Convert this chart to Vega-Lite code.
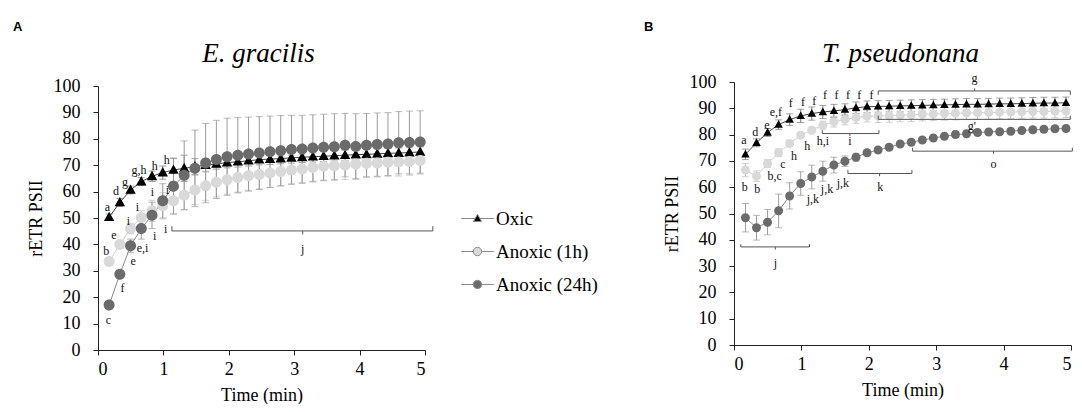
{
  "$schema": "https://vega.github.io/schema/vega-lite/v6.json",
  "background": "white",
  "padding": {"left": 13, "top": 21, "right": 0, "bottom": 0},
  "config": {
    "view": {"stroke": null},
    "axis": {"domainColor": "#222", "tickColor": "#222", "labelColor": "#000", "titleColor": "#000", "grid": false, "tickSize": 5},
    "axisY": {"labelPadding": 13, "titlePadding": 8},
    "axisX": {"labelPadding": 5, "titlePadding": 8}
  },
  "datasets": {
    "sa": [
      {"s":"Oxic","t":0.17,"v":50.3,"e":1.2},{"s":"Oxic","t":0.334,"v":55.9,"e":1.5},{"s":"Oxic","t":0.498,"v":60.6,"e":1.5},{"s":"Oxic","t":0.662,"v":63.8,"e":1.5},{"s":"Oxic","t":0.826,"v":65.8,"e":2},{"s":"Oxic","t":0.99,"v":67.2,"e":2.5},{"s":"Oxic","t":1.154,"v":68.2,"e":4.5},{"s":"Oxic","t":1.318,"v":68.8,"e":5},{"s":"Oxic","t":1.482,"v":69.5,"e":3},{"s":"Oxic","t":1.646,"v":70,"e":2.5},{"s":"Oxic","t":1.81,"v":70.5,"e":2},{"s":"Oxic","t":1.974,"v":71,"e":2},{"s":"Oxic","t":2.138,"v":71.3,"e":2},{"s":"Oxic","t":2.302,"v":71.7,"e":2},{"s":"Oxic","t":2.466,"v":72.1,"e":2},{"s":"Oxic","t":2.63,"v":72.3,"e":2},{"s":"Oxic","t":2.794,"v":72.5,"e":2},{"s":"Oxic","t":2.958,"v":72.8,"e":2},{"s":"Oxic","t":3.122,"v":73,"e":2},{"s":"Oxic","t":3.286,"v":73.2,"e":2},{"s":"Oxic","t":3.45,"v":73.4,"e":2},{"s":"Oxic","t":3.614,"v":73.6,"e":2},{"s":"Oxic","t":3.778,"v":73.8,"e":2},{"s":"Oxic","t":3.942,"v":74,"e":2},{"s":"Oxic","t":4.106,"v":74.1,"e":2},{"s":"Oxic","t":4.27,"v":74.3,"e":2},{"s":"Oxic","t":4.434,"v":74.5,"e":2},{"s":"Oxic","t":4.598,"v":74.6,"e":2},{"s":"Oxic","t":4.762,"v":74.8,"e":2},{"s":"Oxic","t":4.926,"v":75,"e":2},
      {"s":"Anoxic (1h)","t":0.17,"v":33.5,"e":1.5},{"s":"Anoxic (1h)","t":0.334,"v":40,"e":1.5},{"s":"Anoxic (1h)","t":0.498,"v":46,"e":2},{"s":"Anoxic (1h)","t":0.662,"v":50.2,"e":2.5},{"s":"Anoxic (1h)","t":0.826,"v":52.7,"e":4},{"s":"Anoxic (1h)","t":0.99,"v":54.6,"e":5},{"s":"Anoxic (1h)","t":1.154,"v":56.5,"e":5},{"s":"Anoxic (1h)","t":1.318,"v":58.6,"e":5.5},{"s":"Anoxic (1h)","t":1.482,"v":60.6,"e":5.5},{"s":"Anoxic (1h)","t":1.646,"v":62.2,"e":5.5},{"s":"Anoxic (1h)","t":1.81,"v":63.5,"e":5.5},{"s":"Anoxic (1h)","t":1.974,"v":64.5,"e":5.5},{"s":"Anoxic (1h)","t":2.138,"v":65.3,"e":5.5},{"s":"Anoxic (1h)","t":2.302,"v":66,"e":5.5},{"s":"Anoxic (1h)","t":2.466,"v":66.5,"e":5.5},{"s":"Anoxic (1h)","t":2.63,"v":67,"e":5.5},{"s":"Anoxic (1h)","t":2.794,"v":67.6,"e":5.5},{"s":"Anoxic (1h)","t":2.958,"v":68.2,"e":5.5},{"s":"Anoxic (1h)","t":3.122,"v":68.6,"e":5.5},{"s":"Anoxic (1h)","t":3.286,"v":69.1,"e":5.5},{"s":"Anoxic (1h)","t":3.45,"v":69.6,"e":5.5},{"s":"Anoxic (1h)","t":3.614,"v":69.8,"e":5.5},{"s":"Anoxic (1h)","t":3.778,"v":70.1,"e":5.5},{"s":"Anoxic (1h)","t":3.942,"v":70.5,"e":5.5},{"s":"Anoxic (1h)","t":4.106,"v":70.7,"e":5.3},{"s":"Anoxic (1h)","t":4.27,"v":70.8,"e":5.3},{"s":"Anoxic (1h)","t":4.434,"v":71.1,"e":5.3},{"s":"Anoxic (1h)","t":4.598,"v":71.2,"e":5.3},{"s":"Anoxic (1h)","t":4.762,"v":71.4,"e":5.2},{"s":"Anoxic (1h)","t":4.926,"v":71.8,"e":5.2},
      {"s":"Anoxic (24h)","t":0.17,"v":17,"e":1},{"s":"Anoxic (24h)","t":0.334,"v":28.7,"e":1.5},{"s":"Anoxic (24h)","t":0.498,"v":39.5,"e":2.5},{"s":"Anoxic (24h)","t":0.662,"v":46,"e":4},{"s":"Anoxic (24h)","t":0.826,"v":51,"e":5},{"s":"Anoxic (24h)","t":0.99,"v":56.5,"e":6.5},{"s":"Anoxic (24h)","t":1.154,"v":62,"e":10.5},{"s":"Anoxic (24h)","t":1.318,"v":66.2,"e":13},{"s":"Anoxic (24h)","t":1.482,"v":68.8,"e":14.5},{"s":"Anoxic (24h)","t":1.646,"v":70.8,"e":15},{"s":"Anoxic (24h)","t":1.81,"v":72.2,"e":14.8},{"s":"Anoxic (24h)","t":1.974,"v":73.2,"e":14.6},{"s":"Anoxic (24h)","t":2.138,"v":73.8,"e":14.3},{"s":"Anoxic (24h)","t":2.302,"v":74.2,"e":14},{"s":"Anoxic (24h)","t":2.466,"v":74.6,"e":13.8},{"s":"Anoxic (24h)","t":2.63,"v":75.1,"e":13.5},{"s":"Anoxic (24h)","t":2.794,"v":75.5,"e":13.3},{"s":"Anoxic (24h)","t":2.958,"v":75.9,"e":13},{"s":"Anoxic (24h)","t":3.122,"v":76.1,"e":12.8},{"s":"Anoxic (24h)","t":3.286,"v":76.5,"e":12.6},{"s":"Anoxic (24h)","t":3.45,"v":76.8,"e":12.5},{"s":"Anoxic (24h)","t":3.614,"v":77,"e":12.5},{"s":"Anoxic (24h)","t":3.778,"v":77.6,"e":12},{"s":"Anoxic (24h)","t":3.942,"v":77.1,"e":12.4},{"s":"Anoxic (24h)","t":4.106,"v":77.6,"e":12},{"s":"Anoxic (24h)","t":4.27,"v":77.8,"e":12},{"s":"Anoxic (24h)","t":4.434,"v":78,"e":11.9},{"s":"Anoxic (24h)","t":4.598,"v":78.5,"e":11.8},{"s":"Anoxic (24h)","t":4.762,"v":78.6,"e":11.9},{"s":"Anoxic (24h)","t":4.926,"v":78.8,"e":11.8}
    ],
    "sb": [
      {"s":"Oxic","t":0.17,"v":72.5,"e":2},{"s":"Oxic","t":0.334,"v":76.9,"e":1.5},{"s":"Oxic","t":0.498,"v":80.8,"e":1.5},{"s":"Oxic","t":0.662,"v":83.8,"e":1.8},{"s":"Oxic","t":0.826,"v":85.7,"e":2.2},{"s":"Oxic","t":0.99,"v":87.1,"e":2.5},{"s":"Oxic","t":1.154,"v":88,"e":2.5},{"s":"Oxic","t":1.318,"v":88.6,"e":2.5},{"s":"Oxic","t":1.482,"v":89,"e":2.5},{"s":"Oxic","t":1.646,"v":89.5,"e":2.2},{"s":"Oxic","t":1.81,"v":90.2,"e":2.2},{"s":"Oxic","t":1.974,"v":90.6,"e":2.2},{"s":"Oxic","t":2.138,"v":90.7,"e":2.2},{"s":"Oxic","t":2.302,"v":90.8,"e":2.2},{"s":"Oxic","t":2.466,"v":90.9,"e":2.2},{"s":"Oxic","t":2.63,"v":91,"e":2.2},{"s":"Oxic","t":2.794,"v":91.1,"e":2.2},{"s":"Oxic","t":2.958,"v":91.2,"e":2.2},{"s":"Oxic","t":3.122,"v":91.3,"e":2.2},{"s":"Oxic","t":3.286,"v":91.4,"e":2.2},{"s":"Oxic","t":3.45,"v":91.5,"e":2.2},{"s":"Oxic","t":3.614,"v":91.5,"e":2.2},{"s":"Oxic","t":3.778,"v":91.6,"e":2.2},{"s":"Oxic","t":3.942,"v":91.7,"e":2.2},{"s":"Oxic","t":4.106,"v":91.7,"e":2.2},{"s":"Oxic","t":4.27,"v":91.8,"e":2.2},{"s":"Oxic","t":4.434,"v":91.9,"e":2.2},{"s":"Oxic","t":4.598,"v":92,"e":2.2},{"s":"Oxic","t":4.762,"v":92,"e":2.2},{"s":"Oxic","t":4.926,"v":92.1,"e":2.2},
      {"s":"Anoxic (1h)","t":0.17,"v":66.5,"e":2.5},{"s":"Anoxic (1h)","t":0.334,"v":64.2,"e":2},{"s":"Anoxic (1h)","t":0.498,"v":69,"e":1.5},{"s":"Anoxic (1h)","t":0.662,"v":73.1,"e":1.5},{"s":"Anoxic (1h)","t":0.826,"v":76.6,"e":1.2},{"s":"Anoxic (1h)","t":0.99,"v":79.8,"e":1},{"s":"Anoxic (1h)","t":1.154,"v":81.7,"e":1},{"s":"Anoxic (1h)","t":1.318,"v":83.6,"e":1.5},{"s":"Anoxic (1h)","t":1.482,"v":84.9,"e":2},{"s":"Anoxic (1h)","t":1.646,"v":85.7,"e":2},{"s":"Anoxic (1h)","t":1.81,"v":86.5,"e":2.2},{"s":"Anoxic (1h)","t":1.974,"v":87,"e":2.2},{"s":"Anoxic (1h)","t":2.138,"v":87.1,"e":2.5},{"s":"Anoxic (1h)","t":2.302,"v":87.2,"e":2.5},{"s":"Anoxic (1h)","t":2.466,"v":87.4,"e":2.5},{"s":"Anoxic (1h)","t":2.63,"v":87.5,"e":2.5},{"s":"Anoxic (1h)","t":2.794,"v":87.7,"e":2.5},{"s":"Anoxic (1h)","t":2.958,"v":87.8,"e":2.5},{"s":"Anoxic (1h)","t":3.122,"v":88,"e":2.5},{"s":"Anoxic (1h)","t":3.286,"v":88.1,"e":2.5},{"s":"Anoxic (1h)","t":3.45,"v":88.2,"e":2.5},{"s":"Anoxic (1h)","t":3.614,"v":88.3,"e":2.5},{"s":"Anoxic (1h)","t":3.778,"v":88.4,"e":2.5},{"s":"Anoxic (1h)","t":3.942,"v":88.5,"e":2.5},{"s":"Anoxic (1h)","t":4.106,"v":88.6,"e":2.5},{"s":"Anoxic (1h)","t":4.27,"v":88.7,"e":2.5},{"s":"Anoxic (1h)","t":4.434,"v":88.8,"e":2.5},{"s":"Anoxic (1h)","t":4.598,"v":88.8,"e":2.5},{"s":"Anoxic (1h)","t":4.762,"v":88.9,"e":2.5},{"s":"Anoxic (1h)","t":4.926,"v":89,"e":2.5},
      {"s":"Anoxic (24h)","t":0.17,"v":48.4,"e":5.4},{"s":"Anoxic (24h)","t":0.334,"v":44.6,"e":4.7},{"s":"Anoxic (24h)","t":0.498,"v":46.7,"e":4.8},{"s":"Anoxic (24h)","t":0.662,"v":51,"e":6.4},{"s":"Anoxic (24h)","t":0.826,"v":56.7,"e":5},{"s":"Anoxic (24h)","t":0.99,"v":61.4,"e":4.5},{"s":"Anoxic (24h)","t":1.154,"v":63.9,"e":4.5},{"s":"Anoxic (24h)","t":1.318,"v":66.1,"e":3.8},{"s":"Anoxic (24h)","t":1.482,"v":68.4,"e":3},{"s":"Anoxic (24h)","t":1.646,"v":69.9,"e":2},{"s":"Anoxic (24h)","t":1.81,"v":71.4,"e":1.5},{"s":"Anoxic (24h)","t":1.974,"v":73.1,"e":1},{"s":"Anoxic (24h)","t":2.138,"v":74.1,"e":1},{"s":"Anoxic (24h)","t":2.302,"v":75.2,"e":1},{"s":"Anoxic (24h)","t":2.466,"v":76.4,"e":1},{"s":"Anoxic (24h)","t":2.63,"v":77.1,"e":1},{"s":"Anoxic (24h)","t":2.794,"v":77.9,"e":1},{"s":"Anoxic (24h)","t":2.958,"v":78.7,"e":1},{"s":"Anoxic (24h)","t":3.122,"v":79.4,"e":1},{"s":"Anoxic (24h)","t":3.286,"v":80,"e":1},{"s":"Anoxic (24h)","t":3.45,"v":80.3,"e":1},{"s":"Anoxic (24h)","t":3.614,"v":80.8,"e":1},{"s":"Anoxic (24h)","t":3.778,"v":81,"e":1},{"s":"Anoxic (24h)","t":3.942,"v":81.1,"e":1},{"s":"Anoxic (24h)","t":4.106,"v":81.3,"e":1},{"s":"Anoxic (24h)","t":4.27,"v":81.6,"e":1},{"s":"Anoxic (24h)","t":4.434,"v":81.8,"e":1},{"s":"Anoxic (24h)","t":4.598,"v":82,"e":1},{"s":"Anoxic (24h)","t":4.762,"v":82.2,"e":1},{"s":"Anoxic (24h)","t":4.926,"v":82.3,"e":1}
    ],
    "la": [
      {"t":0.144,"v":54.2,"l":"a"},{"t":0.276,"v":60.3,"l":"d"},{"t":0.414,"v":63.5,"l":"g"},{"t":0.628,"v":68.2,"l":"g,h"},{"t":0.868,"v":69.8,"l":"h"},{"t":1.051,"v":72,"l":"h"},
      {"t":0.128,"v":37.5,"l":"b"},{"t":0.245,"v":43.5,"l":"e"},{"t":0.465,"v":48.9,"l":"i"},{"t":0.603,"v":54,"l":"i"},{"t":0.833,"v":59.7,"l":"i"},{"t":1.063,"v":60.6,"l":"i"},
      {"t":0.159,"v":11.2,"l":"c"},{"t":0.374,"v":23.6,"l":"f"},{"t":0.536,"v":33.7,"l":"e"},{"t":0.68,"v":38.8,"l":"e,i"},{"t":0.868,"v":43.2,"l":"i"},{"t":1.036,"v":46,"l":"i"},
      {"t":3.13,"v":38.1,"l":"j"}
    ],
    "lb": [
      {"t":0.148,"v":77.9,"l":"a"},{"t":0.317,"v":81.1,"l":"d"},{"t":0.489,"v":83.6,"l":"e"},{"t":0.62,"v":88.5,"l":"e,f"},{"t":0.843,"v":92,"l":"f"},{"t":1.025,"v":92.3,"l":"f"},{"t":1.19,"v":92.6,"l":"f"},{"t":1.35,"v":95,"l":"f"},{"t":1.52,"v":95,"l":"f"},{"t":1.69,"v":95,"l":"f"},{"t":1.86,"v":95,"l":"f"},{"t":2.04,"v":95,"l":"f"},
      {"t":0.159,"v":60.2,"l":"b"},{"t":0.346,"v":59.5,"l":"b"},{"t":0.603,"v":64.4,"l":"b,c"},{"t":0.726,"v":68.8,"l":"c"},{"t":0.889,"v":72,"l":"h"},{"t":1.087,"v":75.8,"l":"h"},{"t":1.319,"v":77.5,"l":"h,i"},{"t":1.719,"v":77.7,"l":"i"},
      {"t":1.17,"v":55.7,"l":"j,k"},{"t":1.38,"v":59.2,"l":"j,k"},{"t":1.615,"v":61.7,"l":"j,k"},{"t":0.613,"v":31,"l":"j"},{"t":2.17,"v":60.1,"l":"k"},{"t":3.85,"v":69,"l":"o"},{"t":3.57,"v":101.5,"l":"g"},{"t":3.53,"v":83.3,"l":"g'"}
    ],
    "ba": [
      {"t":1.13,"t2":5.12,"v":45.1,"v2":45.1},{"t":1.13,"t2":1.13,"v":45.1,"v2":46.9},{"t":5.12,"t2":5.12,"v":45.1,"v2":46.9},{"t":3.13,"t2":3.13,"v":45.1,"v2":43.8}
    ],
    "bb": [
      {"t":2.14,"t2":4.99,"v":96.6,"v2":96.6},{"t":2.14,"t2":2.14,"v":96.6,"v2":95.1},{"t":4.99,"t2":4.99,"v":96.6,"v2":95.1},{"t":3.57,"t2":3.57,"v":96.6,"v2":97.6},
      {"t":2.14,"t2":4.99,"v":85.8,"v2":85.8},{"t":2.14,"t2":2.14,"v":85.8,"v2":87.2},{"t":4.99,"t2":4.99,"v":85.8,"v2":87.2},
      {"t":1.31,"t2":2.15,"v":80.4,"v2":80.4},{"t":1.31,"t2":1.31,"v":80.4,"v2":81.7},{"t":2.15,"t2":2.15,"v":80.4,"v2":81.7},{"t":1.72,"t2":1.72,"v":80.4,"v2":79.4},
      {"t":1.69,"t2":2.64,"v":65.2,"v2":65.2},{"t":1.69,"t2":1.69,"v":65.2,"v2":66.5},{"t":2.64,"t2":2.64,"v":65.2,"v2":66.5},{"t":2.16,"t2":2.16,"v":65.2,"v2":64.2},
      {"t":2.65,"t2":5.02,"v":73.7,"v2":73.7},{"t":2.65,"t2":2.65,"v":73.7,"v2":75},{"t":5.02,"t2":5.02,"v":73.7,"v2":75},{"t":3.85,"t2":3.85,"v":73.7,"v2":72.7},
      {"t":0.1,"t2":1.12,"v":37.3,"v2":37.3},{"t":0.1,"t2":0.1,"v":37.3,"v2":38.3},{"t":1.12,"t2":1.12,"v":37.3,"v2":38.3},{"t":0.613,"t2":0.613,"v":37.3,"v2":36.3}
    ]
  },
  "resolve": {"scale": {"fill": "independent", "stroke": "independent", "color": "independent", "shape": "independent"}, "legend": {"fill": "independent", "shape": "independent"}},
  "spacing": 46,
  "hconcat": [
    {
      "title": {"text": "A", "anchor": "start", "font": "Liberation Sans", "fontSize": 13, "fontWeight": "bold", "color": "#000", "dx": -14, "offset": 6},
      "resolve": {"scale": {"fill": "independent", "stroke": "independent", "color": "independent", "shape": "independent"}, "legend": {"fill": "independent", "shape": "independent"}},
      "vconcat": [
        {
          "title": {"text": "E. gracilis", "frame": "group", "font": "Liberation Serif", "fontStyle": "italic", "fontSize": 27, "fontWeight": "normal", "color": "#000", "offset": 9, "dx": -3},
          "width": 327,
          "height": 264,
          "encoding": {
            "x": {"field": "t", "type": "quantitative", "title": "Time (min)", "scale": {"domain": [0, 5], "nice": false}, "axis": {"values": [0, 1, 2, 3, 4, 5], "labelFont": "Liberation Serif", "titleFont": "Liberation Serif", "titleFontWeight": "normal", "labelFontSize": 18, "titleFontSize": 18}},
            "y": {"field": "v", "type": "quantitative", "title": "rETR PSII", "scale": {"domain": [0, 100], "nice": false}, "axis": {"values": [0, 10, 20, 30, 40, 50, 60, 70, 80, 90, 100], "labelFont": "Liberation Serif", "titleFont": "Liberation Serif", "titleFontWeight": "normal", "labelFontSize": 18, "titleFontSize": 18}}
          },
          "layer": [
            {"data": {"name": "sa"}, "mark": {"type": "errorbar", "ticks": {"size": 7}}, "encoding": {"yError": {"field": "e"}, "color": {"field": "s", "type": "nominal", "scale": {"range": ["#bdbdbd", "#9a9a9a", "#7a7a7a"]}, "legend": null}}},
            {"data": {"name": "sa"}, "mark": {"type": "line", "strokeWidth": 1}, "encoding": {"stroke": {"field": "s", "type": "nominal", "scale": {"range": ["#d0d0d0", "#8a8a8a", "#444444"]}, "legend": null}}},
            {"data": {"name": "sa"}, "mark": {"type": "point", "filled": true, "opacity": 1, "size": 121},
             "encoding": {
               "shape": {"field": "s", "type": "nominal", "scale": {"domain": ["Oxic", "Anoxic (1h)", "Anoxic (24h)"], "range": ["M-3.9,0H-0.6M0.6,0H3.9M0,-1L0.95,0.7L-0.95,0.7Z", "M-3.9,0H-1M1,0H3.9M1,0A1,1,0,1,1,-1,0A1,1,0,1,1,1,0Z", "M-3.9,0H-1M1,0H3.9M1,0A1,1,0,1,1,-1,0A1,1,0,1,1,1,0Z"]},
                 "legend": {"title": null, "orient": "none", "legendX": 370, "legendY": 123, "direction": "vertical", "symbolSize": 70, "symbolFillColor": "#000000", "symbolStrokeColor": "#8a8a8a", "symbolStrokeWidth": 1, "rowPadding": 13, "labelOffset": 9, "labelFont": "Liberation Serif", "labelFontSize": 19, "labelColor": "#000", "padding": 0}},
               "fill": {"field": "s", "type": "nominal", "scale": {"domain": ["Oxic", "Anoxic (1h)", "Anoxic (24h)"], "range": ["#000000", "#d9d9d9", "#6b6b6b"]},
                 "legend": {"title": null, "orient": "none", "legendX": 370, "legendY": 123, "direction": "vertical", "symbolSize": 70, "symbolFillColor": "#000000", "symbolStrokeColor": "#8a8a8a", "symbolStrokeWidth": 1, "rowPadding": 13, "labelOffset": 9, "labelFont": "Liberation Serif", "labelFontSize": 19, "labelColor": "#000", "padding": 0}}
             }},
            {"data": {"name": "ba"}, "mark": {"type": "rule", "color": "#555555", "strokeWidth": 1}, "encoding": {"x2": {"field": "t2"}, "y2": {"field": "v2"}}},
            {"data": {"name": "la"}, "mark": {"type": "text", "font": "Liberation Serif", "fontSize": 12, "color": "#111", "align": "center", "baseline": "middle"}, "encoding": {"text": {"field": "l"}}}
          ]
        }
      ]
    },
    {
      "title": {"text": "B", "anchor": "start", "font": "Liberation Sans", "fontSize": 13, "fontWeight": "bold", "color": "#000", "dx": -19, "offset": 6},
      "resolve": {"scale": {"fill": "independent", "stroke": "independent", "color": "independent", "shape": "independent"}, "legend": {"fill": "independent", "shape": "independent"}},
      "vconcat": [
        {
          "title": {"text": "T. pseudonana", "frame": "group", "font": "Liberation Serif", "fontStyle": "italic", "fontSize": 27, "fontWeight": "normal", "color": "#000", "offset": 4, "dx": -2},
          "width": 337,
          "height": 259,
          "encoding": {
            "x": {"field": "t", "type": "quantitative", "title": "Time (min)", "scale": {"domain": [0, 5], "nice": false}, "axis": {"values": [0, 1, 2, 3, 4, 5], "labelFont": "Liberation Serif", "titleFont": "Liberation Serif", "titleFontWeight": "normal", "labelFontSize": 18, "titleFontSize": 18}},
            "y": {"field": "v", "type": "quantitative", "title": "rETR PSII", "scale": {"domain": [0, 100], "nice": false, "range": [259, -4]}, "axis": {"values": [0, 10, 20, 30, 40, 50, 60, 70, 80, 90, 100], "labelFont": "Liberation Serif", "titleFont": "Liberation Serif", "titleFontWeight": "normal", "labelFontSize": 18, "titleFontSize": 18}}
          },
          "layer": [
            {"data": {"name": "sb"}, "mark": {"type": "errorbar", "ticks": {"size": 7}}, "encoding": {"yError": {"field": "e"}, "color": {"field": "s", "type": "nominal", "scale": {"range": ["#bdbdbd", "#9a9a9a", "#7a7a7a"]}, "legend": null}}},
            {"data": {"name": "sb"}, "mark": {"type": "line", "strokeWidth": 1}, "encoding": {"stroke": {"field": "s", "type": "nominal", "scale": {"range": ["#d0d0d0", "#8a8a8a", "#444444"]}, "legend": null}}},
            {"data": {"name": "sb"}, "mark": {"type": "point", "filled": true, "opacity": 1, "size": 81},
             "encoding": {
               "shape": {"field": "s", "type": "nominal", "scale": {"domain": ["Oxic", "Anoxic (1h)", "Anoxic (24h)"], "range": ["M-3.9,0H-0.6M0.6,0H3.9M0,-1L0.95,0.7L-0.95,0.7Z", "M-3.9,0H-1M1,0H3.9M1,0A1,1,0,1,1,-1,0A1,1,0,1,1,1,0Z", "M-3.9,0H-1M1,0H3.9M1,0A1,1,0,1,1,-1,0A1,1,0,1,1,1,0Z"]}, "legend": null},
               "fill": {"field": "s", "type": "nominal", "scale": {"domain": ["Oxic", "Anoxic (1h)", "Anoxic (24h)"], "range": ["#000000", "#d9d9d9", "#6b6b6b"]}, "legend": null}
             }},
            {"data": {"name": "bb"}, "mark": {"type": "rule", "color": "#555555", "strokeWidth": 1}, "encoding": {"x2": {"field": "t2"}, "y2": {"field": "v2"}}},
            {"data": {"name": "lb"}, "mark": {"type": "text", "font": "Liberation Serif", "fontSize": 12, "color": "#111", "align": "center", "baseline": "middle"}, "encoding": {"text": {"field": "l"}}}
          ]
        }
      ]
    }
  ]
}
